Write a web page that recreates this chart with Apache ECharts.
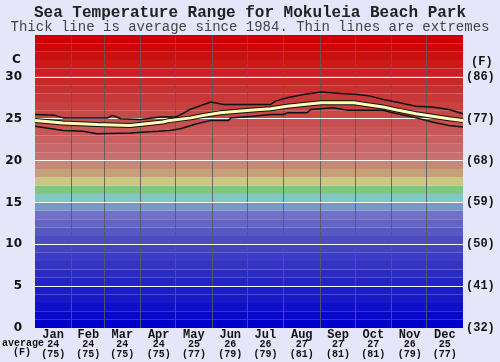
<!DOCTYPE html>
<html><head><meta charset="utf-8">
<script src="https://cdn.jsdelivr.net/npm/echarts@6/dist/echarts.min.js"></script>
<style>html,body{margin:0;padding:0;background:#e6e6fa;}#c{width:500px;height:362px;}</style>
</head><body><div id="c"></div>
<script>
// ---- data ----
const months = ['Jan','Feb','Mar','Apr','May','Jun','Jul','Aug','Sep','Oct','Nov','Dec'];
const monthStartDays = [0,31,59,90,120,151,181,212,243,273,304,334,365];
const avgC = [24,24,24,24,25,26,26,27,27,27,26,25];
const avgF = [75,75,75,75,77,79,79,81,81,81,79,77];
const yTicksC = [0,5,10,15,20,25,30];
// [day of year, deg C]
const maxLine = [[0,25.5],[17,25.4],[24,25.1],[38,25.1],[62,25.1],[66,25.4],[73,25.0],[90,24.9],[107,25.2],[120,25.2],[126,25.6],[132,26.1],[144,26.7],[150,27.0],[161,26.7],[181,26.7],[201,26.7],[205,27.1],[215,27.5],[229,27.9],[244,28.2],[261,28.0],[275,27.9],[286,27.7],[297,27.3],[308,27.0],[325,26.5],[339,26.4],[353,26.1],[365,25.6]];
const avgLine = [[0,24.8],[24,24.5],[53,24.3],[81,24.2],[109,24.6],[115,24.8],[133,25.1],[144,25.4],[158,25.7],[173,25.9],[186,26.05],[201,26.2],[215,26.5],[229,26.7],[244,26.9],[258,26.9],[272,26.9],[282,26.7],[297,26.4],[310,26.0],[325,25.6],[339,25.3],[353,25.0],[365,24.8]];
const minLine = [[0,24.1],[24,23.6],[41,23.5],[53,23.2],[81,23.3],[105,23.5],[115,23.6],[124,23.8],[138,24.4],[150,24.8],[165,24.8],[167,25.1],[186,25.3],[201,25.5],[212,25.5],[215,25.7],[232,25.7],[235,26.1],[244,26.2],[254,26.3],[267,26.0],[297,26.0],[305,25.7],[325,25.1],[339,24.6],[353,24.2],[365,24.0]];

// ---- styles ----
const bandColors = ['#0000cc','#0808cc','#1010c8','#1818c8','#1c1cc8','#2424c4','#2c2cc4','#3434c4','#3c3cc4','#4444c0','#4c4cc0','#5858c4','#6464c4','#7070c4','#7898c8','#80c8c8','#80c880','#c8c880','#c8a078','#c88878','#c87070','#c86868','#c86060','#c85858','#c85050','#c84848','#c84040','#c83838','#c83030','#c82828','#cc2020','#cc1818','#cc1010','#cc0808','#cc0000'];
const mono = '"Liberation Mono","Courier New",monospace';

const days = [];
for (let i = 0; i < 365; i++) days.push(String(i));
const midDays = months.map((m, i) => Math.floor((monthStartDays[i] + monthStartDays[i+1]) / 2));

const bands = bandColors.map((c, i) => [{yAxis: i, itemStyle: {color: c}}, {yAxis: i + 1}]);
const vLines = monthStartDays.slice(1, 12).map(d => ({xAxis: d}));
const hLines = yTicksC.filter(v => v > 0).map(v => ({yAxis: v}));

const chart = echarts.init(document.getElementById('c'), null, {renderer: 'canvas'});
chart.setOption({
  animation: false,
  backgroundColor: '#e6e6fa',
  title: [
    {text: 'Sea Temperature Range for Mokuleia Beach Park', left: 'center', top: 5, padding: 0,
     textStyle: {fontFamily: mono, fontSize: 16, fontWeight: 'bold', color: '#222', lineHeight: 16}},
    {text: 'Thick line is average since 1984. Thin lines are extremes', left: 'center', top: 20, padding: 0,
     textStyle: {fontFamily: mono, fontSize: 14, fontWeight: 'normal', color: '#444', lineHeight: 14}}
  ],
  grid: {left: 35, right: 37, top: 35, bottom: 34},
  xAxis: [
    {type: 'value', min: 0, max: 365, show: false},
    {type: 'category', data: days, position: 'bottom', boundaryGap: true,
     axisLine: {show: false}, axisTick: {show: false}, splitLine: {show: false},
     axisLabel: {
       interval: (idx) => midDays.indexOf(idx) >= 0,
       margin: 1,
       formatter: (v, idx) => {
         const m = midDays.indexOf(Number(v));
         if (m < 0) return '';
         return '{m|' + months[m] + '}\n{n|' + avgC[m] + '}\n{f|(' + avgF[m] + ')}';
       },
       rich: {
         m: {fontFamily: mono, fontSize: 12, fontWeight: 'bold', color: '#111', lineHeight: 11},
         n: {fontFamily: mono, fontSize: 10, fontWeight: 'bold', color: '#111', lineHeight: 9.5},
         f: {fontFamily: mono, fontSize: 10, fontWeight: 'bold', color: '#111', lineHeight: 9.5}
       }
     }}
  ],
  yAxis: [
    {type: 'value', min: 0, max: 35, interval: 5, position: 'left',
     axisLine: {show: false}, axisTick: {show: false}, splitLine: {show: false},
     axisLabel: {margin: 13, fontFamily: '"DejaVu Sans",sans-serif', fontSize: 12, fontWeight: 'bold', color: '#111',
       formatter: v => (v <= 30 ? String(v) : '')}},
    {type: 'value', min: 0, max: 35, interval: 5, position: 'right',
     axisLine: {show: false}, axisTick: {show: false}, splitLine: {show: false},
     axisLabel: {margin: 3, fontFamily: mono, fontSize: 12, fontWeight: 'bold', color: '#111',
       formatter: v => (v <= 30 ? '(' + Math.round(v * 1.8 + 32) + ')' : '')}}
  ],
  graphic: [
    {type: 'text', left: 12, top: 54, style: {text: 'C', font: 'bold 12px "DejaVu Sans",sans-serif', fill: '#111'}},
    {type: 'text', left: 471, top: 56, style: {text: '(F)', font: 'bold 12px ' + mono, fill: '#111'}},
    {type: 'text', left: 2, top: 338, style: {text: 'average', font: 'bold 10px ' + mono, fill: '#111'}},
    {type: 'text', left: 13, top: 347, style: {text: '(F)', font: 'bold 10px ' + mono, fill: '#111'}}
  ],
  series: [
    {type: 'line', name: 'min', data: minLine, xAxisIndex: 0, yAxisIndex: 0, symbol: 'none', z: 3,
     lineStyle: {color: '#111', width: 1.5}, silent: true,
     markArea: {silent: true, z: 0, data: bands},
     markLine: {silent: true, z: 1, symbol: 'none', label: {show: false},
       lineStyle: {color: 'rgba(90,90,90,0.85)', width: 1, type: 'solid'}, data: vLines}},
    {type: 'line', name: 'max', data: maxLine, xAxisIndex: 0, yAxisIndex: 0, symbol: 'none', z: 3,
     lineStyle: {color: '#111', width: 1.5}, silent: true,
     markLine: {silent: true, z: 1, symbol: 'none', label: {show: false},
       lineStyle: {color: '#ffffff', width: 1, type: 'solid'}, data: hLines}},
    {type: 'line', name: 'avgOutline', data: avgLine, xAxisIndex: 0, yAxisIndex: 0, symbol: 'none', z: 4,
     lineStyle: {color: '#111', width: 5}, silent: true},
    {type: 'line', name: 'avg', data: avgLine, xAxisIndex: 0, yAxisIndex: 0, symbol: 'none', z: 5,
     lineStyle: {color: '#ffffb8', width: 3}, silent: true}
  ]
});
</script></body></html>
